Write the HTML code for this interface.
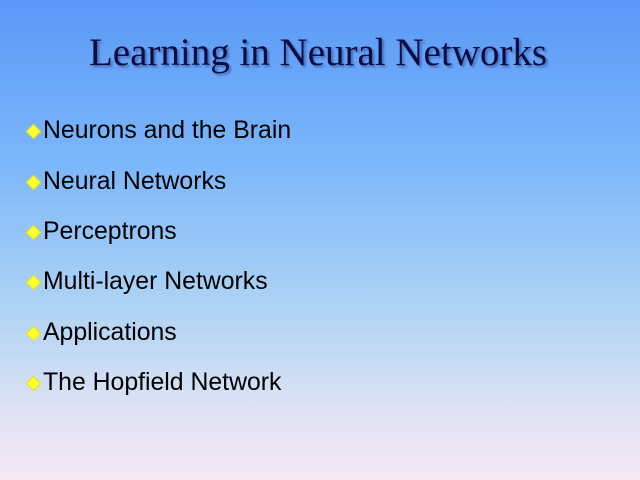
<!DOCTYPE html>
<html><head><style>
html,body{margin:0;padding:0}
body{width:640px;height:480px;overflow:hidden;position:relative;
background:linear-gradient(to bottom,#5a98f8 0%,#7db8fa 35%,#b0d4f4 65%,#e4e4f4 88%,#f6e6f4 100%);
font-family:"Liberation Sans",sans-serif}
h1{position:absolute;left:0;width:636px;top:30px;margin:0;text-align:center;
font-family:"Liberation Serif",serif;font-weight:normal;font-size:39px;color:#0c0c40;
text-shadow:2px 2px 2px rgba(0,0,60,0.35)}
.b{position:absolute;left:43px;font-size:24.8px;color:#000;line-height:26px}
.d{position:absolute;left:28px;width:9px;height:9px;background:#ffff30;transform:rotate(45deg);border:1px solid #e0e020}
</style></head><body>
<h1>Learning in Neural Networks</h1>
<div class="d" style="top:126px"></div><div class="b" style="top:118px">Neurons and the Brain</div>
<div class="d" style="top:177px"></div><div class="b" style="top:169px">Neural Networks</div>
<div class="d" style="top:227px"></div><div class="b" style="top:219px">Perceptrons</div>
<div class="d" style="top:277px"></div><div class="b" style="top:269px">Multi-layer Networks</div>
<div class="d" style="top:328px"></div><div class="b" style="top:320px">Applications</div>
<div class="d" style="top:378px"></div><div class="b" style="top:370px">The Hopfield Network</div>
</body></html>
